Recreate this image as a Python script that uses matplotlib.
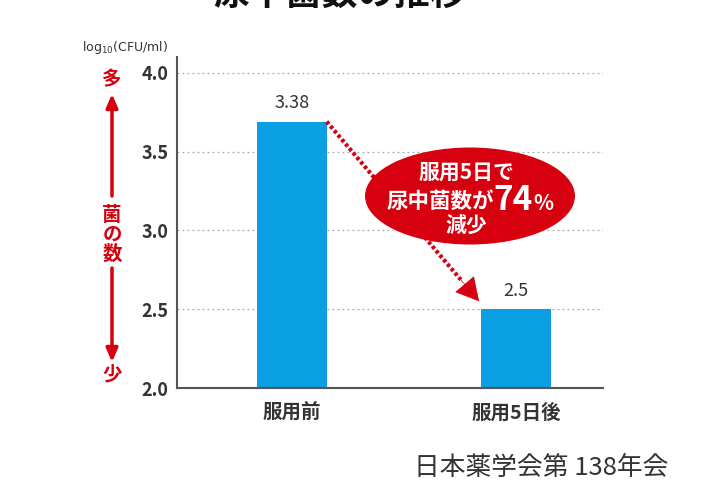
import matplotlib
matplotlib.use('Agg')
import matplotlib.pyplot as plt
from matplotlib.patches import Ellipse
from matplotlib.text import Annotation

plt.rcParams['font.family'] = ['Noto Sans CJK JP', 'DejaVu Sans']

# データ
categories = ['服用前', '服用5日後']
bar_heights = [3.69, 2.50]
bar_labels = ['3.38', '2.5']
yticks = [2.0, 2.5, 3.0, 3.5, 4.0]

BLUE = '#0a9fe2'
RED = '#d7000f'
GRAY = '#333333'

W, H = 720, 480


def fx(x):
    return x / W


def fy(y):
    return 1 - y / H


fig = plt.figure(figsize=(7.2, 4.8), dpi=100)
ax = fig.add_axes([fx(177), fy(388), fx(603) - fx(177), fy(57) - fy(388)])

xs = range(len(categories))
bw = 0.31
ax.bar(xs, bar_heights, width=bw, color=BLUE, zorder=2)
ax.set_xlim(-0.513, 1.388)
ax.set_ylim(2.0, 4.10)
ax.set_yticks(yticks)
ax.set_yticklabels(['%.1f' % t for t in yticks], fontsize=13, fontweight='bold', color=GRAY)
ax.set_xticks(list(xs))
ax.set_xticklabels(categories, fontsize=14, fontweight='bold', color=GRAY)
ax.tick_params(length=0, pad=6)
ax.tick_params(axis='x', pad=11)
for t in yticks[1:]:
    ax.axhline(t, color='#aaaaaa', linestyle=(0, (1.5, 2.5)), linewidth=0.9, zorder=1)

ax.spines['top'].set_visible(False)
ax.spines['right'].set_visible(False)
ax.spines['left'].set_color('#555555')
ax.spines['bottom'].set_color('#555555')
ax.spines['left'].set_linewidth(1.5)
ax.spines['bottom'].set_linewidth(1.5)

# 値ラベル
for x, h, lab in zip(xs, bar_heights, bar_labels):
    ax.text(x, h + 0.06, lab, ha='center', va='bottom', fontsize=13, color=GRAY)

# 減少の点線矢印
x0, y0 = 0 + bw / 2, bar_heights[0]
x1, y1 = 1 - bw / 2 - 0.01, bar_heights[1] + 0.05
xm, ym = x0 + (x1 - x0) * 0.88, y0 + (y1 - y0) * 0.88
ax.plot([x0, xm], [y0, ym], color=RED, linewidth=3, linestyle=(0, (0.8, 0.6)), zorder=3)
ax.annotate('', xy=(x1, y1), xytext=(xm, ym),
            arrowprops=dict(arrowstyle='-|>,head_length=1.1,head_width=0.6',
                            color=RED, linewidth=0.5, shrinkA=0, shrinkB=0,
                            mutation_scale=14),
            zorder=3)

# 吹き出し
ell = Ellipse((fx(470), fy(196)), fx(210), 97 / H, transform=fig.transFigure,
              facecolor=RED, edgecolor='none', zorder=4)
fig.patches.append(ell)
fig.text(fx(466), fy(172), '服用5日で', ha='center', va='center', fontsize=15,
         fontweight='bold', color='white', zorder=5)
fig.text(fx(494), fy(201), '尿中菌数が', ha='right', va='center', fontsize=15.5,
         fontweight='bold', color='white', zorder=5)
fig.text(fx(493), fy(200), '74', ha='left', va='center', fontsize=24,
         fontweight='bold', color='white', zorder=5)
fig.text(fx(533), fy(203), '%', ha='left', va='center', fontsize=15,
         fontweight='bold', color='white', zorder=5)
fig.text(fx(466), fy(225), '減少', ha='center', va='center', fontsize=15,
         fontweight='bold', color='white', zorder=5)

# 左側の「菌の数」矢印
fig.text(fx(112), fy(80), '多', ha='center', va='center', fontsize=14,
         fontweight='bold', color=RED)
fig.text(fx(112), fy(375), '少', ha='center', va='center', fontsize=14,
         fontweight='bold', color=RED)
fig.text(fx(112), fy(235), '菌\nの\n数', ha='center', va='center', fontsize=14,
         color=RED, fontweight='bold', linespacing=1.0)
arrow = dict(arrowstyle='-|>,head_length=0.8,head_width=0.35', color=RED,
             linewidth=2.5, shrinkA=0, shrinkB=0)
fig.add_artist(Annotation(
    '', xy=(fx(112), fy(94)), xytext=(fx(112), fy(196)),
    xycoords='figure fraction', textcoords='figure fraction', arrowprops=arrow))
fig.add_artist(Annotation(
    '', xy=(fx(112), fy(362)), xytext=(fx(112), fy(268)),
    xycoords='figure fraction', textcoords='figure fraction', arrowprops=arrow))

fig.text(fx(82), fy(47), r'log$_{10}$(CFU/ml)', ha='left', va='center',
         fontsize=9, color=GRAY, family='DejaVu Sans')

# タイトル（上端で切れている）
fig.text(fx(340), fy(-6), '尿中菌数の推移', ha='center', va='center', fontsize=26,
         fontweight='bold', color='#111111')

fig.text(fx(668), fy(468), '日本薬学会第 138年会', ha='right', va='center',
         fontsize=18.5, color=GRAY)

fig.savefig('out.png', dpi=100)
